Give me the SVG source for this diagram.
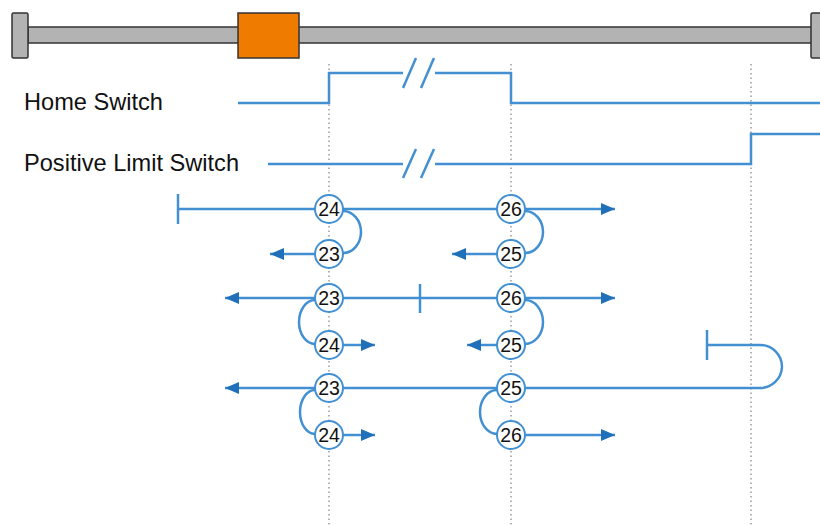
<svg xmlns="http://www.w3.org/2000/svg" width="820" height="525" viewBox="0 0 820 525">
<style>
.dot{stroke:#9a9a9a;stroke-width:1.5;stroke-dasharray:1.5 3;fill:none}
.sig{stroke:#4290d2;stroke-width:2.5;fill:none}
.ln{stroke:#4290d2;stroke-width:2.5;fill:none}
.arr{stroke:#4290d2;stroke-width:2.5;fill:none;marker-end:url(#ah)}
.cir{stroke:#4290d2;stroke-width:2;fill:#fff}
.num{font-family:"Liberation Sans",Arial,sans-serif;font-size:19.5px;fill:#111;text-anchor:middle}
.lbl{font-family:"Liberation Sans",Arial,sans-serif;font-size:23.6px;fill:#111}
.cap{fill:#b3b3b3;stroke:#333;stroke-width:1.5}
</style>
<defs>
<marker id="ah" markerUnits="userSpaceOnUse" markerWidth="16" markerHeight="14" refX="14" refY="6" orient="auto">
<path d="M0,0 L14,6 L0,12 z" fill="#1f70b8"/>
</marker>
</defs>
<g id="rail">
<rect x="28" y="27" width="784" height="16" fill="#b3b3b3" stroke="#333" stroke-width="1.5"/>
<rect class="cap" x="12" y="13" width="16" height="45" rx="1.5"/>
<rect class="cap" x="811" y="13" width="16" height="45" rx="1.5"/>
<rect id="carriage" x="238" y="13" width="61" height="45" fill="#ef7b00" stroke="#333" stroke-width="1.5"/>
</g>
<g id="guides">
<line class="dot" x1="329" y1="64" x2="329" y2="525"/>
<line class="dot" x1="511" y1="64" x2="511" y2="525"/>
<line class="dot" x1="751" y1="64" x2="751" y2="525"/>
</g>
<g id="home-switch">
<text class="lbl" x="24" y="110">Home Switch</text>
<polyline class="sig" points="238,103 329,103 329,73 403,73"/>
<line class="sig" x1="403" y1="88" x2="416" y2="58"/>
<line class="sig" x1="421" y1="88" x2="434" y2="58"/>
<polyline class="sig" points="435,73 511,73 511,103 820,103"/>
</g>
<g id="positive-limit-switch">
<text class="lbl" x="24" y="171">Positive Limit Switch</text>
<polyline class="sig" points="268,164 403,164"/>
<line class="sig" x1="403" y1="178" x2="416" y2="149"/>
<line class="sig" x1="421" y1="178" x2="434" y2="149"/>
<polyline class="sig" points="435,164 751,164 751,134 820,134"/>
</g>
<g id="connectors">
<line class="ln" x1="178" y1="194" x2="178" y2="224"/>
<line class="arr" x1="178" y1="209" x2="615" y2="209"/>
<path class="ln" d="M343,211 A18,21 0 0 1 343,253"/>
<path class="ln" d="M525,211 A18,21 0 0 1 525,253"/>
<line class="arr" x1="315" y1="254" x2="270" y2="254"/>
<line class="arr" x1="497" y1="254" x2="452" y2="254"/>
<line class="ln" x1="420" y1="284" x2="420" y2="313"/>
<line class="arr" x1="420" y1="298" x2="225" y2="298"/>
<line class="arr" x1="420" y1="298" x2="615" y2="298"/>
<path class="ln" d="M315,300 A16,22 0 0 0 315,344"/>
<path class="ln" d="M525,300 A18,22 0 0 1 525,344"/>
<line class="arr" x1="343" y1="345" x2="375" y2="345"/>
<line class="arr" x1="497" y1="345" x2="467" y2="345"/>
<line class="ln" x1="707" y1="330" x2="707" y2="360"/>
<path class="ln" d="M707,345 L760,345 A22,22 0 0 1 782,367 A22,22 0 0 1 760,388 L600,388"/>
<line class="arr" x1="600" y1="388" x2="225" y2="388"/>
<path class="ln" d="M315,390 A15,22 0 0 0 315,434"/>
<path class="ln" d="M497,390 A17,22 0 0 0 497,434"/>
<line class="arr" x1="343" y1="435" x2="375" y2="435"/>
<line class="arr" x1="525" y1="435" x2="615" y2="435"/>
</g>
<g id="n24a"><circle class="cir" cx="329" cy="209" r="14"/><text class="num" x="329" y="216">24</text></g>
<g id="n26a"><circle class="cir" cx="511" cy="209" r="14"/><text class="num" x="511" y="216">26</text></g>
<g id="n23a"><circle class="cir" cx="329" cy="254" r="14"/><text class="num" x="329" y="261">23</text></g>
<g id="n25a"><circle class="cir" cx="511" cy="254" r="14"/><text class="num" x="511" y="261">25</text></g>
<g id="n23b"><circle class="cir" cx="329" cy="298" r="14"/><text class="num" x="329" y="305">23</text></g>
<g id="n26b"><circle class="cir" cx="511" cy="298" r="14"/><text class="num" x="511" y="305">26</text></g>
<g id="n24b"><circle class="cir" cx="329" cy="345" r="14"/><text class="num" x="329" y="352">24</text></g>
<g id="n25b"><circle class="cir" cx="511" cy="345" r="14"/><text class="num" x="511" y="352">25</text></g>
<g id="n23c"><circle class="cir" cx="329" cy="388" r="14"/><text class="num" x="329" y="395">23</text></g>
<g id="n25c"><circle class="cir" cx="511" cy="388" r="14"/><text class="num" x="511" y="395">25</text></g>
<g id="n24c"><circle class="cir" cx="329" cy="435" r="14"/><text class="num" x="329" y="442">24</text></g>
<g id="n26c"><circle class="cir" cx="511" cy="435" r="14"/><text class="num" x="511" y="442">26</text></g>
</svg>
